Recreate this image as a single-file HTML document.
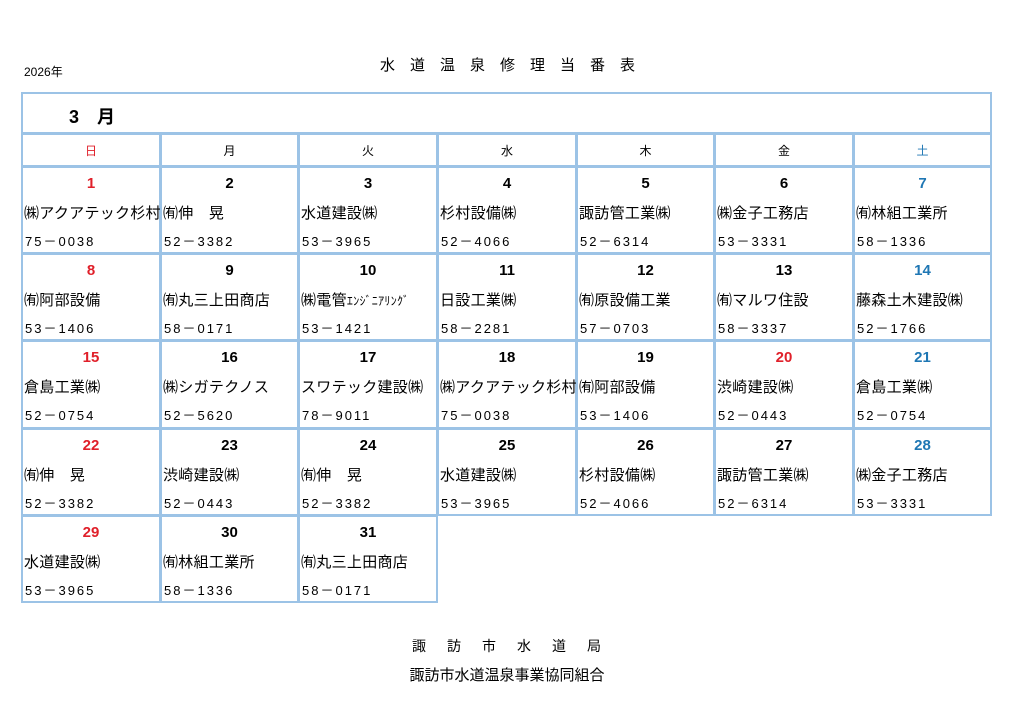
<!DOCTYPE html>
<html><head><meta charset="utf-8"><style>
body{margin:0;width:1024px;height:725px;background:#fff;position:relative;font-family:"Liberation Sans","Noto Sans CJK JP",sans-serif;color:#000;overflow:hidden}
.a{position:absolute;white-space:nowrap}
.c{position:absolute;border:1px solid #9cc3e6;box-sizing:border-box}
.n{position:absolute;left:0;right:0;top:7px;text-align:center;font-weight:bold;font-size:15px}
.co{position:absolute;left:1px;top:34px;font-size:15px;white-space:nowrap;letter-spacing:0.3px}
.ph{position:absolute;left:2px;top:63px;font-size:13px;letter-spacing:2px;white-space:nowrap}
.r{color:#e0202a}.b{color:#1f77b4}
.h{position:absolute;top:0;left:0;right:0;text-align:center;font-size:12px;line-height:33px}
</style></head><body>
<div class="a" style="left:24px;top:63px;font-size:12px">2026年</div>
<div class="a" style="left:8px;width:1014px;text-align:center;top:54px;font-size:15px;letter-spacing:15px">水道温泉修理当番表</div>
<div class="c" style="left:21px;top:92px;width:971px;height:42px;border-width:2px"><div class="a" style="left:46px;top:9px;font-size:18px;font-weight:bold">3　月</div></div>
<div id="g"></div>
<div class="a" style="left:10px;width:1014px;text-align:center;top:636px;font-size:14px;letter-spacing:21px">諏訪市水道局</div>
<div class="a" style="left:0;width:1014px;text-align:center;top:664px;font-size:15px">諏訪市水道温泉事業協同組合</div>
<script>
var xs=[21,160,298,437,576,714,853,991],ys=[166,253,340,428,515,602];
var hd=["日","月","火","水","木","金","土"];
var d=[["㈱アクアテック杉村","75－0038"],["㈲伸　晃","52－3382"],["水道建設㈱","53－3965"],["杉村設備㈱","52－4066"],["諏訪管工業㈱","52－6314"],["㈱金子工務店","53－3331"],["㈲林組工業所","58－1336"],
["㈲阿部設備","53－1406"],["㈲丸三上田商店","58－0171"],["㈱電管<span style='font-size:12px'>ｴﾝｼﾞﾆｱﾘﾝｸﾞ</span>","53－1421"],["日設工業㈱","58－2281"],["㈲原設備工業","57－0703"],["㈲マルワ住設","58－3337"],["藤森土木建設㈱","52－1766"],
["倉島工業㈱","52－0754"],["㈱シガテクノス","52－5620"],["スワテック建設㈱","78－9011"],["㈱アクアテック杉村","75－0038"],["㈲阿部設備","53－1406"],["渋崎建設㈱","52－0443"],["倉島工業㈱","52－0754"],
["㈲伸　晃","52－3382"],["渋崎建設㈱","52－0443"],["㈲伸　晃","52－3382"],["水道建設㈱","53－3965"],["杉村設備㈱","52－4066"],["諏訪管工業㈱","52－6314"],["㈱金子工務店","53－3331"],
["水道建設㈱","53－3965"],["㈲林組工業所","58－1336"],["㈲丸三上田商店","58－0171"]];
var h="";
for(var i=0;i<7;i++){var cl=i==0?"r":i==6?"b":"";h+='<div class="c" style="left:'+xs[i]+'px;top:133px;width:'+(xs[i+1]-xs[i]+1)+'px;height:34px;border-width:2px"><div class="h '+cl+'">'+hd[i]+'</div></div>';}
for(var k=0;k<31;k++){var r=Math.floor(k/7),c=k%7;var red=(c==0||k==19);var cl=red?"r":c==6?"b":"";
h+='<div class="c" style="left:'+xs[c]+'px;top:'+ys[r]+'px;width:'+(xs[c+1]-xs[c]+1)+'px;height:'+(ys[r+1]-ys[r]+1)+'px;border-width:2px"><div class="n '+cl+'">'+(k+1)+'</div><div class="co">'+d[k][0]+'</div><div class="ph">'+d[k][1]+'</div></div>';}
document.getElementById("g").innerHTML=h;
</script>
</body></html>
